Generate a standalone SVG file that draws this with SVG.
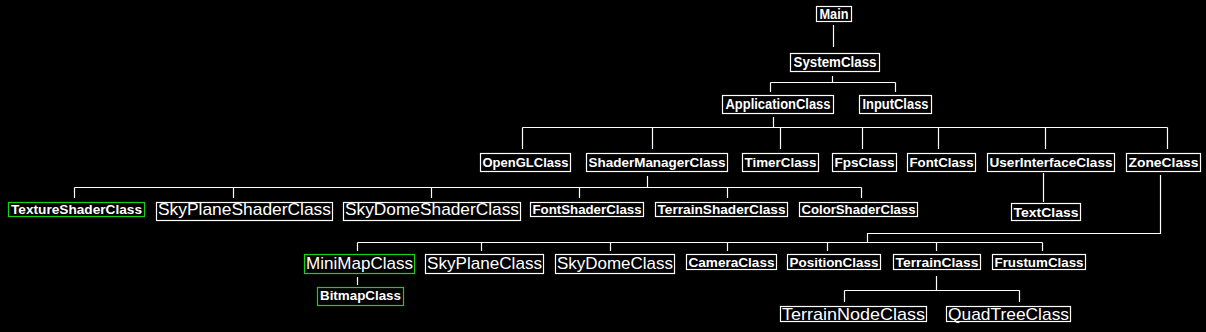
<svg xmlns="http://www.w3.org/2000/svg" width="1206" height="332" viewBox="0 0 1206 332">
<style>
rect.b{fill:#000;stroke:#fff;stroke-width:1.2}
rect.g{fill:#000;stroke:#14d214;stroke-width:1.2}
text{fill:#fff;font-family:"Liberation Sans",Arial,sans-serif;text-anchor:middle}
text.s{font-size:13.3px;font-weight:bold}
text.t{font-size:13.8px;font-weight:bold}
text.l{font-size:17px}
#connectors path{fill:none;stroke:#fff;stroke-width:1.2}
</style>
<rect x="0" y="0" width="1206" height="332" fill="#000"/>
<g id="connectors">
<path d="M833.5 25V47"/>
<path d="M832.5 76V82.5M770.5 82.5H895.5M770.5 82.5V92M895.5 82.5V92"/>
<path d="M773.5 117V127.5M522.5 127.5H1167.5M522.5 127.5V149M652.5 127.5V149M780.5 127.5V149M862.5 127.5V149M938.5 127.5V149M1045.5 127.5V149M1167.5 127.5V149"/>
<path d="M647.5 176V187.5M74.5 187.5H861.5M74.5 187.5V198M233.5 187.5V198M431.5 187.5V198M579.5 187.5V198M727.5 187.5V198M861.5 187.5V198"/>
<path d="M1043.5 173V202"/>
<path d="M1160.5 175V233.5H867.5V242.5M357.5 242.5H1042.5M357.5 242.5V251M481.5 242.5V251M610.5 242.5V251M727.5 242.5V251M827.5 242.5V251M936.5 242.5V251M1042.5 242.5V251"/>
<path d="M357.5 277V285"/>
<path d="M936.5 276V290.5M844.5 290.5H1019.5M844.5 290.5V302M1019.5 290.5V302"/>
</g>
<g id="Main"><rect class="b" x="816.5" y="6.5" width="35" height="15"/><text class="t" x="834" y="19" textLength="29" lengthAdjust="spacingAndGlyphs">Main</text></g>
<g id="SystemClass"><rect class="b" x="790.5" y="53.5" width="89" height="18"/><text class="t" x="835" y="66.5" textLength="83" lengthAdjust="spacingAndGlyphs">SystemClass</text></g>
<g id="ApplicationClass"><rect class="b" x="722.5" y="95.5" width="111" height="18"/><text class="t" x="778" y="108.5" textLength="105" lengthAdjust="spacingAndGlyphs">ApplicationClass</text></g>
<g id="InputClass"><rect class="b" x="859.5" y="95.5" width="72" height="18"/><text class="t" x="895.5" y="108.5" textLength="66" lengthAdjust="spacingAndGlyphs">InputClass</text></g>
<g id="OpenGLClass"><rect class="b" x="480.5" y="153.5" width="90" height="18"/><text class="s" x="525.5" y="167" textLength="86" lengthAdjust="spacingAndGlyphs">OpenGLClass</text></g>
<g id="ShaderManagerClass"><rect class="b" x="586.5" y="153.5" width="141" height="18"/><text class="s" x="657" y="167" textLength="137" lengthAdjust="spacingAndGlyphs">ShaderManagerClass</text></g>
<g id="TimerClass"><rect class="b" x="742.5" y="153.5" width="76" height="18"/><text class="s" x="780.5" y="167" textLength="72" lengthAdjust="spacingAndGlyphs">TimerClass</text></g>
<g id="FpsClass"><rect class="b" x="832.5" y="153.5" width="64" height="18"/><text class="s" x="864.5" y="167" textLength="60" lengthAdjust="spacingAndGlyphs">FpsClass</text></g>
<g id="FontClass"><rect class="b" x="907.5" y="153.5" width="68" height="18"/><text class="s" x="941.5" y="167" textLength="64" lengthAdjust="spacingAndGlyphs">FontClass</text></g>
<g id="UserInterfaceClass"><rect class="b" x="987.5" y="153.5" width="127" height="18"/><text class="s" x="1051" y="167" textLength="123" lengthAdjust="spacingAndGlyphs">UserInterfaceClass</text></g>
<g id="ZoneClass"><rect class="b" x="1126.5" y="153.5" width="74" height="18"/><text class="s" x="1163.5" y="167" textLength="70" lengthAdjust="spacingAndGlyphs">ZoneClass</text></g>
<g id="TextClass"><rect class="b" x="1011.5" y="203.5" width="69" height="17"/><text class="s" x="1046" y="216.5" textLength="65" lengthAdjust="spacingAndGlyphs">TextClass</text></g>
<g id="TextureShaderClass"><rect class="g" x="8.5" y="202.5" width="136" height="14"/><text class="s" x="76.5" y="214" textLength="131" lengthAdjust="spacingAndGlyphs">TextureShaderClass</text></g>
<g id="SkyPlaneShaderClass"><rect class="b" x="156.5" y="202.5" width="176" height="18"/><text class="l" x="244.5" y="215" textLength="173" lengthAdjust="spacingAndGlyphs">SkyPlaneShaderClass</text></g>
<g id="SkyDomeShaderClass"><rect class="b" x="343.5" y="202.5" width="177" height="18"/><text class="l" x="432" y="215" textLength="174" lengthAdjust="spacingAndGlyphs">SkyDomeShaderClass</text></g>
<g id="FontShaderClass"><rect class="b" x="530.5" y="202.5" width="113" height="14"/><text class="s" x="587" y="214" textLength="109" lengthAdjust="spacingAndGlyphs">FontShaderClass</text></g>
<g id="TerrainShaderClass"><rect class="b" x="655.5" y="202.5" width="132" height="14"/><text class="s" x="721.5" y="214" textLength="128" lengthAdjust="spacingAndGlyphs">TerrainShaderClass</text></g>
<g id="ColorShaderClass"><rect class="b" x="799.5" y="202.5" width="118" height="14"/><text class="s" x="858.5" y="214" textLength="114" lengthAdjust="spacingAndGlyphs">ColorShaderClass</text></g>
<g id="MiniMapClass"><rect class="g" x="304.5" y="254.5" width="110" height="19"/><text class="l" x="359.5" y="268.5" textLength="107" lengthAdjust="spacingAndGlyphs">MiniMapClass</text></g>
<g id="SkyPlaneClass"><rect class="b" x="425.5" y="254.5" width="118" height="19"/><text class="l" x="484.5" y="268.5" textLength="115" lengthAdjust="spacingAndGlyphs">SkyPlaneClass</text></g>
<g id="SkyDomeClass"><rect class="b" x="555.5" y="254.5" width="119" height="19"/><text class="l" x="615" y="268.5" textLength="116" lengthAdjust="spacingAndGlyphs">SkyDomeClass</text></g>
<g id="CameraClass"><rect class="b" x="686.5" y="254.5" width="90" height="15"/><text class="s" x="731.5" y="266.5" textLength="86" lengthAdjust="spacingAndGlyphs">CameraClass</text></g>
<g id="PositionClass"><rect class="b" x="787.5" y="254.5" width="93" height="15"/><text class="s" x="834" y="266.5" textLength="89" lengthAdjust="spacingAndGlyphs">PositionClass</text></g>
<g id="TerrainClass"><rect class="b" x="893.5" y="254.5" width="87" height="15"/><text class="s" x="937" y="266.5" textLength="83" lengthAdjust="spacingAndGlyphs">TerrainClass</text></g>
<g id="FrustumClass"><rect class="b" x="992.5" y="254.5" width="93" height="15"/><text class="s" x="1039" y="266.5" textLength="89" lengthAdjust="spacingAndGlyphs">FrustumClass</text></g>
<g id="BitmapClass"><rect class="g" x="317.5" y="287.5" width="86" height="18"/><text class="s" x="360.5" y="299.5" textLength="81" lengthAdjust="spacingAndGlyphs">BitmapClass</text></g>
<g id="TerrainNodeClass"><rect class="b" x="780.5" y="306.5" width="146" height="15"/><text class="l" x="853.5" y="319.5" textLength="143" lengthAdjust="spacingAndGlyphs">TerrainNodeClass</text></g>
<g id="QuadTreeClass"><rect class="b" x="946.5" y="306.5" width="124" height="15"/><text class="l" x="1008.5" y="319.5" textLength="121" lengthAdjust="spacingAndGlyphs">QuadTreeClass</text></g>
</svg>
